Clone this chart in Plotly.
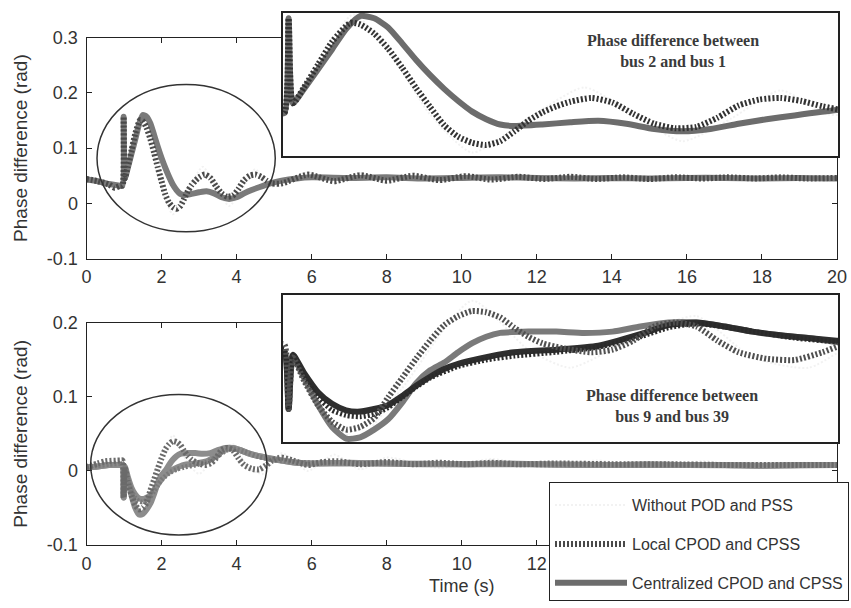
import plotly.graph_objects as go

# ---------------- data ----------------
# Top panel: phase difference between bus 2 and bus 1
t_top_cent = [0, 0.3, 0.6, 0.9, 0.96, 0.99, 1.02, 1.1, 1.2, 1.3,
              1.4, 1.5, 1.6, 1.7, 1.8, 1.9, 2.0, 2.1, 2.2, 2.3,
              2.4, 2.5, 2.6, 2.8, 3.0, 3.2, 3.4, 3.6, 3.8, 4.0,
              4.2, 4.4, 4.6, 4.9, 5.2, 5.6, 6, 7, 8, 9,
              10, 11, 12, 13, 14, 15, 16, 17, 18, 19, 20]
v_top_cent = [0.043, 0.040, 0.035, 0.032, 0.032, 0.157, 0.045, 0.064, 0.090, 0.116,
              0.143, 0.160, 0.157, 0.145, 0.124, 0.102, 0.082, 0.064, 0.048, 0.034,
              0.024, 0.017, 0.015, 0.017, 0.020, 0.022, 0.018, 0.011, 0.008, 0.011,
              0.018, 0.024, 0.029, 0.036, 0.041, 0.045, 0.047, 0.046, 0.047, 0.045,
              0.046, 0.047, 0.046, 0.045, 0.046, 0.045, 0.046, 0.046, 0.045, 0.046, 0.045]

t_top_local = [0, 0.3, 0.6, 0.75, 0.9, 0.96, 0.99, 1.02, 1.1, 1.2,
               1.3, 1.43, 1.5, 1.6, 1.7, 1.8, 1.9, 2.0, 2.1, 2.2,
               2.3, 2.4, 2.5, 2.6, 2.7, 2.8, 2.9, 3.0, 3.15, 3.3,
               3.45, 3.6, 3.75, 3.9, 4.05, 4.2, 4.35, 4.5, 4.65, 4.8,
               4.95, 5.2, 5.9, 6.6, 7.3, 8.0, 8.7, 9.4, 10.1, 10.8,
               11.5, 12.2, 12.9, 13.6, 14.3, 15.0, 15.7, 16.4, 17.1, 17.8,
               18.5, 19.2, 20]
v_top_local = [0.044, 0.040, 0.034, 0.028, 0.032, 0.032, 0.157, 0.045, 0.066, 0.096,
               0.126, 0.151, 0.149, 0.137, 0.117, 0.092, 0.065, 0.040, 0.016, 0.001,
               -0.007, -0.010, -0.005, 0.008, 0.022, 0.033, 0.041, 0.047, 0.052, 0.046,
               0.031, 0.018, 0.012, 0.014, 0.026, 0.042, 0.050, 0.052, 0.048, 0.041,
               0.036, 0.036, 0.052, 0.040, 0.051, 0.041, 0.050, 0.042, 0.049, 0.043,
               0.048, 0.044, 0.048, 0.044, 0.047, 0.044, 0.047, 0.045, 0.047, 0.045,
               0.047, 0.045, 0.046]

t_top_without = [0, 0.3, 0.6, 0.9, 0.96, 0.99, 1.02, 1.2, 1.45, 1.7,
                 2.0, 2.3, 2.7, 3.1, 3.45, 3.8, 4.15, 4.5, 4.85, 5.2,
                 5.9, 6.6, 7.3, 8.0, 8.7, 9.4, 10.1, 10.8, 11.5, 12.2,
                 12.9, 13.6, 14.3, 15.0, 15.7, 16.4, 17.1, 17.8, 18.5, 19.2, 20]
v_top_without = [0.044, 0.040, 0.034, 0.032, 0.032, 0.157, 0.045, 0.100, 0.162, 0.115,
                 0.030, -0.020, 0.025, 0.066, 0.030, -0.005, 0.025, 0.062, 0.030, 0.035,
                 0.056, 0.036, 0.055, 0.037, 0.054, 0.038, 0.053, 0.039, 0.052, 0.040,
                 0.051, 0.041, 0.050, 0.042, 0.049, 0.043, 0.049, 0.043, 0.048, 0.044, 0.046]

# Bottom panel: phase difference between bus 9 and bus 39
t_bot_cent = [0, 0.3, 0.6, 0.9, 0.96, 0.99, 1.02, 1.1, 1.2, 1.3,
              1.4, 1.5, 1.6, 1.7, 1.8, 1.9, 2.0, 2.1, 2.2, 2.3,
              2.4, 2.5, 2.7, 2.9, 3.1, 3.3, 3.5, 3.7, 3.9, 4.1,
              4.3, 4.5, 4.7, 4.9, 5.2, 5.6, 6, 7, 8, 9,
              10, 11, 12, 13, 14, 15, 16, 17, 18, 19, 20]
v_bot_cent = [0.005, 0.006, 0.008, 0.008, 0.008, -0.036, 0.004, -0.012, -0.033, -0.050,
              -0.059, -0.058, -0.052, -0.044, -0.031, -0.016, -0.006, 0.000, 0.008, 0.015,
              0.020, 0.023, 0.024, 0.024, 0.023, 0.024, 0.028, 0.031, 0.031, 0.028,
              0.024, 0.021, 0.019, 0.016, 0.014, 0.011, 0.010, 0.011, 0.010, 0.009,
              0.009, 0.010, 0.009, 0.008, 0.008, 0.009, 0.008, 0.008, 0.007, 0.008, 0.008]

t_bot_cent2 = [0, 0.3, 0.6, 0.9, 0.96, 0.99, 1.02, 1.1, 1.2, 1.3,
               1.4, 1.5, 1.6, 1.7, 1.8, 1.9, 2.0, 2.1, 2.2, 2.35,
               2.6, 2.9, 3.2, 3.5, 3.7, 3.9, 4.1, 4.3, 4.6, 4.9,
               5.2, 5.6, 6, 8, 10, 12, 14, 16, 18, 20]
v_bot_cent2 = [0.005, 0.006, 0.008, 0.008, 0.008, -0.036, 0.006, -0.008, -0.023, -0.032,
               -0.037, -0.038, -0.036, -0.033, -0.026, -0.018, -0.011, -0.005, -0.001, 0.003,
               0.008, 0.010, 0.013, 0.022, 0.029, 0.031, 0.028, 0.024, 0.020, 0.017,
               0.014, 0.011, 0.010, 0.010, 0.009, 0.009, 0.008, 0.008, 0.007, 0.008]

t_bot_local = [0, 0.3, 0.5, 0.9, 0.96, 0.99, 1.02, 1.1, 1.2, 1.3,
               1.4, 1.5, 1.6, 1.7, 1.8, 1.9, 2.0, 2.1, 2.2, 2.3,
               2.4, 2.5, 2.6, 2.7, 2.8, 2.95, 3.15, 3.3, 3.45, 3.6,
               3.75, 3.9, 4.05, 4.2, 4.4, 4.6, 4.8, 4.95, 5.2, 5.5,
               5.9, 6.3, 6.7, 7.3, 8.0, 8.7, 9.4, 10.1, 10.8, 11.5,
               12.5, 14, 15.5, 17, 18.5, 20]
v_bot_local = [0.005, 0.010, 0.013, 0.014, 0.014, -0.036, 0.004, -0.014, -0.033, -0.046,
               -0.052, -0.050, -0.043, -0.027, -0.012, 0.003, 0.017, 0.029, 0.036, 0.040,
               0.039, 0.035, 0.027, 0.020, 0.015, 0.011, 0.008, 0.010, 0.017, 0.028,
               0.031, 0.028, 0.017, 0.008, 0.003, 0.002, 0.008, 0.014, 0.018, 0.014,
               0.008, 0.012, 0.013, 0.009, 0.012, 0.009, 0.011, 0.009, 0.011, 0.009,
               0.010, 0.009, 0.009, 0.008, 0.008, 0.008]

t_bot_local2 = [0, 0.3, 0.6, 0.9, 0.96, 0.99, 1.02, 1.1, 1.2, 1.3,
                1.4, 1.5, 1.6, 1.7, 1.8, 1.9, 2.0, 2.2, 2.4, 2.6,
                2.9, 3.2, 3.5, 3.7, 3.9, 4.2, 4.6, 4.91, 5.5, 7,
                10, 14, 20]
v_bot_local2 = [0.005, 0.007, 0.009, 0.010, 0.010, -0.036, 0.005, -0.011, -0.027, -0.037,
                -0.041, -0.042, -0.040, -0.035, -0.027, -0.019, -0.012, -0.003, 0.002, 0.005,
                0.008, 0.012, 0.020, 0.027, 0.030, 0.026, 0.019, 0.016, 0.012, 0.010,
                0.009, 0.008, 0.008]

t_bot_without = [0, 0.5, 0.9, 0.96, 0.99, 1.02, 1.3, 1.5, 1.8, 2.3,
                 2.7, 3.0, 3.5, 3.9, 4.3, 4.7, 5.2, 5.9, 6.6, 7.3,
                 8.0, 9.4, 10.8, 12.2, 13.6, 15.0, 16.4, 17.8, 19.2, 20]
v_bot_without = [0.005, 0.012, 0.014, 0.014, -0.036, 0.004, -0.050, -0.058, -0.020, 0.048,
                 0.010, -0.004, 0.022, 0.036, 0.004, -0.004, 0.024, 0.000, 0.022, 0.002,
                 0.018, 0.004, 0.016, 0.005, 0.014, 0.006, 0.013, 0.007, 0.011, 0.009]

legend_names = ["Without POD and PSS", "Local CPOD and CPSS", "Centralized CPOD and CPSS"]
x_ticks = [0, 2, 4, 6, 8, 10, 12, 14, 16, 18, 20]
y_top_ticks = [-0.1, 0, 0.1, 0.2, 0.3]
y_top_ticktext = ["-0.1", "0", "0.1", "0.2", "0.3"]
y_bot_ticks = [-0.1, 0, 0.1, 0.2]
y_bot_ticktext = ["-0.1", "0", "0.1", "0.2"]

# ranges
x_main_range = [0, 20]
y_top_range = [-0.1, 0.3]
y_bot_range = [-0.1, 0.2]
x_inset_range = [0.95, 4.91]
y_top_inset_range = [-0.0245, 0.164]
y_bot_inset_range = [-0.0616, 0.0524]

# highlighted (circled) regions: [t0, t1, v0, v1]
top_ellipse = [0.28, 5.03, -0.0517, 0.215]
bot_ellipse = [0.11, 4.81, -0.0865, 0.103]

W, H = 851, 608
FONT = "Liberation Sans, Arial, sans-serif"
SERIF = "Liberation Serif, Times New Roman, serif"
DOT = "2px,2px"
FAINT = "#f2f2f2"

fig = go.Figure()

def add(t, v, xa, ya, color, width, dash=None, name=None, showlegend=False, group=None):
    fig.add_trace(go.Scatter(
        x=t, y=v, xaxis=xa, yaxis=ya, mode="lines",
        line=dict(color=color, width=width, dash=dash, shape="spline", smoothing=0.6),
        name=name, showlegend=showlegend, legendgroup=group, hoverinfo="skip"))

# main top
add(t_top_without, v_top_without, "x", "y", FAINT, 2, DOT, legend_names[0], True, "g0")
add(t_top_cent, v_top_cent, "x", "y", "#7a7a7a", 6, None, None, False, "g2")
add(t_top_local, v_top_local, "x", "y", "#4a4a4a", 6, DOT, legend_names[1], True, "g1")
# main bottom
add(t_bot_without, v_bot_without, "x2", "y2", FAINT, 2, DOT, None, False, "g0")
add(t_bot_cent2, v_bot_cent2, "x2", "y2", "#8c8c8c", 6, None, None, False, "g2")
add(t_bot_cent, v_bot_cent, "x2", "y2", "#8c8c8c", 6, None, None, False, "g2")
add(t_bot_local2, v_bot_local2, "x2", "y2", "#7a7a7a", 5, DOT, None, False, "g1")
add(t_bot_local, v_bot_local, "x2", "y2", "#6a6a6a", 6, DOT, None, False, "g1")
# inset top
add(t_top_without, v_top_without, "x3", "y3", FAINT, 2, DOT, None, False, "g0")
add(t_top_cent, v_top_cent, "x3", "y3", "#6c6c6c", 6, None, legend_names[2], True, "g2")
add(t_top_local, v_top_local, "x3", "y3", "#333333", 6, DOT, None, False, "g1")
# inset bottom
add(t_bot_without, v_bot_without, "x4", "y4", FAINT, 2, DOT, None, False, "g0")
add(t_bot_cent, v_bot_cent, "x4", "y4", "#7a7a7a", 6, None, None, False, "g2")
add(t_bot_cent2, v_bot_cent2, "x4", "y4", "#2e2e2e", 6, None, None, False, "g2")
add(t_bot_local2, v_bot_local2, "x4", "y4", "#2a2a2a", 5, DOT, None, False, "g1")
add(t_bot_local, v_bot_local, "x4", "y4", "#505050", 6, DOT, None, False, "g1")

xd = [86.5 / W, 837 / W]
main_common = dict(showgrid=False, zeroline=False, showline=True, linecolor="#222",
                   linewidth=1, mirror="ticks", ticks="inside", ticklen=5,
                   tickcolor="#222", tickfont=dict(family=FONT, size=18, color="#333"))
inset_common = dict(showgrid=False, zeroline=False, showline=True, linecolor="#222",
                    linewidth=1.5, mirror=True, ticks="", showticklabels=False)
ytitle_font = dict(family=FONT, size=19, color="#333")

fig.update_layout(
    width=W, height=H,
    margin=dict(l=0, r=0, t=0, b=0, autoexpand=False),
    paper_bgcolor="white", plot_bgcolor="white",
    xaxis=dict(domain=xd, range=x_main_range, anchor="y", tickvals=x_ticks,
               ticklabelstandoff=2, **main_common),
    yaxis=dict(domain=[1 - 258.5 / H, 1 - 37.7 / H], range=y_top_range, anchor="x",
               tickvals=y_top_ticks, ticktext=y_top_ticktext, ticklabelstandoff=4,
               title=dict(text="Phase difference (rad)", font=ytitle_font, standoff=14),
               **main_common),
    xaxis2=dict(domain=xd, range=x_main_range, anchor="y2", tickvals=x_ticks,
                ticklabelstandoff=2,
                title=dict(text="Time (s)", font=dict(family=FONT, size=18, color="#333"), standoff=6),
                **main_common),
    yaxis2=dict(domain=[1 - 545 / H, 1 - 322.7 / H], range=y_bot_range, anchor="x2",
                tickvals=y_bot_ticks, ticktext=y_bot_ticktext, ticklabelstandoff=4,
                title=dict(text="Phase difference (rad)", font=ytitle_font, standoff=14),
                **main_common),
    xaxis3=dict(domain=[283 / W, 838 / W], range=x_inset_range, anchor="y3", **inset_common),
    yaxis3=dict(domain=[1 - 156 / H, 1 - 13 / H], range=y_top_inset_range, anchor="x3", **inset_common),
    xaxis4=dict(domain=[283 / W, 838 / W], range=x_inset_range, anchor="y4", **inset_common),
    yaxis4=dict(domain=[1 - 442 / H, 1 - 295 / H], range=y_bot_inset_range, anchor="x4", **inset_common),
    legend=dict(x=549 / W, y=1 - 482 / H, xanchor="left", yanchor="top",
                bgcolor="white", bordercolor="#222", borderwidth=1,
                font=dict(family=FONT, size=16, color="#333"),
                traceorder="grouped", tracegroupgap=15, itemwidth=72,
                title=dict(text=" ", font=dict(size=4))),
    showlegend=True,
)

shapes = [
    # white backgrounds of the insets (drawn in the inset subplots)
    dict(type="rect", xref="x3", yref="y3", x0=x_inset_range[0], x1=x_inset_range[1],
         y0=y_top_inset_range[0], y1=y_top_inset_range[1], fillcolor="white",
         line=dict(width=0), layer="below"),
    dict(type="rect", xref="x4", yref="y4", x0=x_inset_range[0], x1=x_inset_range[1],
         y0=y_bot_inset_range[0], y1=y_bot_inset_range[1], fillcolor="white",
         line=dict(width=0), layer="below"),
    dict(type="circle", xref="x", yref="y", x0=top_ellipse[0], x1=top_ellipse[1],
         y0=top_ellipse[2], y1=top_ellipse[3], line=dict(color="#333", width=1.5)),
    dict(type="circle", xref="x2", yref="y2", x0=bot_ellipse[0], x1=bot_ellipse[1],
         y0=bot_ellipse[2], y1=bot_ellipse[3], line=dict(color="#333", width=1.5)),
]
fig.update_layout(shapes=shapes)

fig.add_annotation(x=673 / W, y=1 - 51 / H, xref="paper", yref="paper",
                   xanchor="center", yanchor="middle",
                   text="<b>Phase difference between<br>bus 2 and bus 1</b>", showarrow=False,
                   font=dict(family=SERIF, size=16, color="#3a3a3a"), align="center")
fig.add_annotation(x=672 / W, y=1 - 406 / H, xref="paper", yref="paper",
                   xanchor="center", yanchor="middle",
                   text="<b>Phase difference between<br>bus 9 and bus 39</b>", showarrow=False,
                   font=dict(family=SERIF, size=16, color="#3a3a3a"), align="center")

fig.write_html("out.html")
